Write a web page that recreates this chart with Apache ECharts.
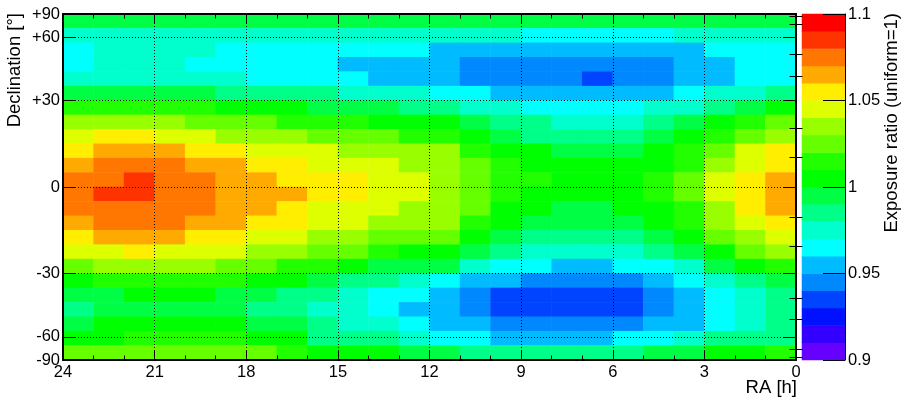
<!DOCTYPE html>
<html><head><meta charset="utf-8">
<script src="https://cdn.jsdelivr.net/npm/echarts@6/dist/echarts.min.js"></script>
<style>html,body{margin:0;padding:0;background:#fff}#c{width:909px;height:400px}</style>
</head><body><div id="c"></div>
<script>
// ---- data ----
const raTicks = [24, 21, 18, 15, 12, 9, 6, 3, 0];
const decTicks = [-90, -60, -30, 0, 30, 60, 90];
const decTickLabels = ['-90', '-60', '-30', '0', '+30', '+60', '+90'];
const decMinorTicks = [-80, -70, -50, -40, -20, -10, 10, 20, 40, 50, 70, 80];
const colorTicks = [0.9, 0.95, 1, 1.05, 1.1];
const levelEdges = [0.90,0.91,0.92,0.93,0.94,0.95,0.96,0.97,0.98,0.99,1.00,1.01,1.02,1.03,1.04,1.05,1.06,1.07,1.08,1.09,1.10];
const levelColors = ['#6600ff','#3300ff','#0011ff','#0044ff','#0088ff','#00bbff','#00ffff','#00ffcc','#00ff88','#00ff44',
                     '#00ff00','#22ff00','#66ff00','#99ff00','#ddff00','#ffee00','#ffaa00','#ff7700','#ff3300','#ff0000'];
// rows: top (dec +90) -> bottom (dec -90), equal steps in sin(dec); columns: RA 24h -> 0h, 1h each
const exposure = [
 [.995,.995,.995,.995,.995,.995,.995,.995,.995,.995,.995,.995,.995,.995,.995,.995,.995,.995,.995,.995,.995,.995,.995,.995],
 [.975,.975,.975,.975,.975,.975,.975,.975,.975,.975,.975,.975,.975,.975,.975,.965,.965,.965,.965,.965,.975,.975,.975,.975],
 [.965,.975,.975,.975,.975,.965,.965,.965,.965,.965,.965,.965,.955,.955,.955,.955,.955,.955,.955,.955,.955,.965,.965,.965],
 [.965,.975,.975,.975,.965,.965,.965,.965,.965,.955,.955,.955,.955,.945,.945,.945,.945,.945,.945,.945,.955,.955,.965,.965],
 [.975,.975,.975,.975,.975,.975,.965,.965,.965,.965,.955,.955,.955,.945,.945,.945,.945,.935,.945,.945,.955,.955,.965,.965],
 [.995,.995,.995,.995,.995,.985,.985,.985,.985,.975,.975,.975,.965,.965,.955,.955,.955,.955,.955,.955,.965,.975,.975,.985],
 [1.015,1.015,1.015,1.015,1.015,1.005,1.005,1.005,.995,.995,.995,.985,.985,.975,.975,.965,.965,.965,.965,.975,.975,.985,.995,1.005],
 [1.035,1.035,1.035,1.035,1.025,1.025,1.025,1.015,1.015,1.015,1.005,1.005,1.005,.995,.985,.985,.975,.975,.975,.985,.995,1.005,1.015,1.025],
 [1.045,1.055,1.055,1.045,1.045,1.035,1.035,1.035,1.025,1.025,1.025,1.015,1.015,1.005,.995,.985,.985,.985,.985,.995,1.005,1.015,1.025,1.035],
 [1.055,1.065,1.065,1.065,1.055,1.055,1.045,1.045,1.045,1.035,1.035,1.035,1.035,1.015,1.005,1.005,.995,.995,.995,1.005,1.015,1.025,1.045,1.055],
 [1.065,1.075,1.075,1.075,1.065,1.065,1.055,1.055,1.045,1.045,1.045,1.035,1.035,1.025,1.015,1.005,1.005,1.005,1.005,1.005,1.015,1.035,1.045,1.055],
 [1.075,1.075,1.085,1.075,1.075,1.065,1.065,1.055,1.055,1.055,1.045,1.045,1.035,1.025,1.015,1.015,1.005,1.005,1.005,1.015,1.025,1.045,1.055,1.065],
 [1.075,1.085,1.085,1.075,1.075,1.065,1.065,1.065,1.055,1.055,1.045,1.045,1.035,1.025,1.015,1.005,1.005,1.005,1.005,1.015,1.025,1.045,1.055,1.065],
 [1.075,1.075,1.075,1.075,1.075,1.065,1.065,1.055,1.045,1.045,1.045,1.035,1.035,1.025,1.005,1.005,.995,.995,1.005,1.005,1.015,1.035,1.055,1.065],
 [1.065,1.075,1.075,1.075,1.065,1.065,1.055,1.055,1.045,1.045,1.035,1.035,1.035,1.015,1.005,.995,.995,.995,.995,1.005,1.015,1.035,1.045,1.055],
 [1.055,1.065,1.065,1.065,1.055,1.055,1.045,1.045,1.035,1.035,1.025,1.025,1.025,1.005,.995,.985,.985,.985,.985,.995,1.005,1.025,1.035,1.045],
 [1.045,1.045,1.055,1.045,1.045,1.045,1.035,1.035,1.025,1.025,1.015,1.005,1.005,.995,.985,.975,.975,.975,.975,.985,.995,1.005,1.025,1.035],
 [1.025,1.035,1.035,1.035,1.035,1.025,1.025,1.015,1.015,1.005,.995,.995,.995,.975,.965,.965,.955,.955,.965,.965,.975,.995,1.005,1.015],
 [1.005,1.015,1.015,1.015,1.015,1.015,1.005,1.005,.995,.985,.985,.975,.965,.955,.955,.945,.945,.945,.945,.955,.965,.975,.985,.995],
 [.995,.995,1.005,1.005,1.005,.995,.995,.985,.985,.975,.965,.965,.955,.945,.935,.935,.935,.935,.935,.945,.955,.965,.975,.985],
 [.985,.995,.995,.995,.995,.995,.985,.985,.975,.975,.965,.955,.955,.945,.935,.935,.935,.935,.935,.945,.955,.965,.975,.985],
 [.995,1.005,1.005,1.005,1.005,1.005,.995,.995,.985,.975,.975,.965,.955,.955,.945,.945,.945,.945,.945,.955,.955,.965,.975,.985],
 [1.005,1.005,1.015,1.015,1.015,1.015,1.005,1.005,.985,.985,.985,.975,.965,.965,.955,.955,.955,.955,.965,.965,.975,.985,.985,.985],
 [1.025,1.025,1.025,1.025,1.025,1.025,1.025,1.015,1.005,1.005,1.005,.995,.995,.985,.985,.985,.985,.985,.985,.995,.995,1.005,1.005,1.015]
];

// ---- build ----
const FONT = '"Liberation Sans", Arial, Helvetica, sans-serif';
const TICK_FS = 16.5, TITLE_FS = 18.5;
const toSin = d => Math.sin(d * Math.PI / 180);
const decMajorSin = decTicks.map(toSin);
const decMinorSin = decMinorTicks.map(toSin);

const nCols = exposure[0].length, nRows = exposure.length;
const colCats = [], rowCats = [];
for (let c = 0; c < nCols; c++) colCats.push('c' + c);
for (let r = 0; r < nRows; r++) rowCats.push('r' + r);
const cells = [];
exposure.forEach((row, r) => row.forEach((v, c) => cells.push([c, r, v])));

const barCats = levelColors.map((_, i) => 'l' + i);
const barCells = levelColors.map((_, i) => [0, i, (levelEdges[i] + levelEdges[i + 1]) / 2]);
const pieces = levelColors.map((col, i) => ({ gte: levelEdges[i], lt: levelEdges[i + 1] + (i === levelColors.length - 1 ? 1e-9 : 0), color: col }));

const black = '#000';
const dotted = { show: true, lineStyle: { color: black, width: 1, type: [1, 2] } };
const frameLine = { show: true, onZero: false, lineStyle: { color: black, width: 2 } };
const lbl = { color: black, fontSize: TICK_FS, fontFamily: FONT };

function decLabel(v) {
  let b = 0;
  for (let i = 1; i < decMajorSin.length; i++) if (Math.abs(decMajorSin[i] - v) < Math.abs(decMajorSin[b] - v)) b = i;
  return decTickLabels[b];
}
function raAxis(pos, labels) {
  return {
    type: 'value', gridIndex: 0, min: raTicks[raTicks.length - 1], max: raTicks[0], interval: 3, inverse: true,
    position: pos, z: 10,
    axisLine: frameLine,
    axisTick: { show: true, inside: true, length: 9, lineStyle: { color: black, width: 1 } },
    minorTick: { show: true, splitNumber: 3, length: 4.5, lineStyle: { color: black, width: 1 } },
    axisLabel: labels ? Object.assign({ margin: 4, showMinLabel: true, showMaxLabel: true, formatter: v => String(v) }, lbl) : { show: false },
    splitLine: labels ? dotted : { show: false },
    minorSplitLine: { show: false }
  };
}
function decAxis(pos, major, labels) {
  const vals = major ? decMajorSin : decMinorSin;
  return {
    type: 'value', gridIndex: 0, min: -1, max: 1, position: pos, z: 10,
    axisLine: major ? frameLine : { show: false },
    axisTick: { show: true, inside: true, length: major ? 13 : 6.5, customValues: vals, lineStyle: { color: black, width: 1 } },
    axisLabel: labels ? Object.assign({ margin: 3, customValues: decMajorSin, formatter: decLabel, showMinLabel: true, showMaxLabel: true }, lbl) : { show: false },
    splitLine: labels ? dotted : { show: false }
  };
}

const option = {
  animation: false,
  backgroundColor: '#fff',
  grid: [
    { left: 63, top: 14, width: 733, height: 346, outerBoundsMode: 'none' },
    { left: 802, top: 14, width: 43, height: 346, outerBoundsMode: 'none' }
  ],
  xAxis: [
    { type: 'category', gridIndex: 0, data: colCats, show: false },
    raAxis('bottom', true),
    raAxis('top', false),
    { type: 'category', gridIndex: 1, data: ['bar'], show: false }
  ],
  yAxis: [
    { type: 'category', gridIndex: 0, data: rowCats, inverse: true, show: false },
    decAxis('left', true, true),
    decAxis('left', false, false),
    decAxis('right', true, false),
    decAxis('right', false, false),
    { type: 'category', gridIndex: 1, data: barCats, show: false },
    {
      type: 'value', gridIndex: 1, min: colorTicks[0], max: colorTicks[colorTicks.length - 1], interval: 0.05,
      position: 'right', z: 10,
      axisLine: { show: true, onZero: false, lineStyle: { color: black, width: 1 } },
      axisTick: { show: true, inside: true, length: 22, lineStyle: { color: black, width: 1 } },
      axisLabel: Object.assign({ margin: 3, showMinLabel: true, showMaxLabel: true, formatter: v => String(Math.round(v * 100) / 100) }, lbl),
      splitLine: { show: false }
    }
  ],
  visualMap: { type: 'piecewise', show: false, seriesIndex: [0, 1], dimension: 2, pieces: pieces },
  series: [
    { type: 'heatmap', xAxisIndex: 0, yAxisIndex: 0, data: cells, z: 2, emphasis: { disabled: true } },
    { type: 'heatmap', xAxisIndex: 3, yAxisIndex: 5, data: barCells, z: 2, emphasis: { disabled: true } }
  ],
  graphic: [
    { type: 'text', x: 15, y: 13, rotation: Math.PI / 2, z: 20,
      style: { text: 'Declination [°]', fontSize: TITLE_FS, fontFamily: FONT, fill: black, align: 'right', verticalAlign: 'middle' } },
    { type: 'text', x: 892, y: 13, rotation: Math.PI / 2, z: 20,
      style: { text: 'Exposure ratio (uniform=1)', fontSize: TITLE_FS, fontFamily: FONT, fill: black, align: 'right', verticalAlign: 'middle' } },
    { type: 'text', x: 797, y: 387.5, z: 20,
      style: { text: 'RA [h]', fontSize: TITLE_FS, fontFamily: FONT, fill: black, align: 'right', verticalAlign: 'middle' } }
  ]
};
const chart = echarts.init(document.getElementById('c'), null, { renderer: 'canvas' });
chart.setOption(option);
</script></body></html>
